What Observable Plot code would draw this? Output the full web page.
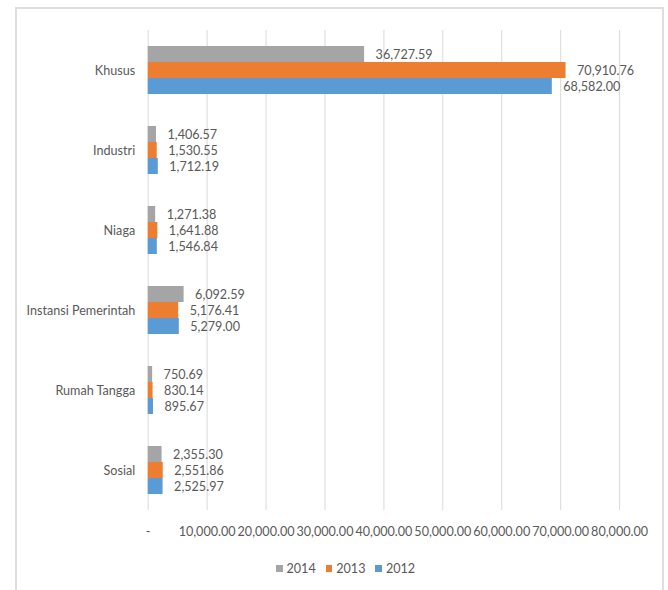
<!DOCTYPE html>
<html>
<head>
<meta charset="utf-8">
<script src="https://cdn.jsdelivr.net/npm/d3@7"></script>
<script src="https://cdn.jsdelivr.net/npm/@observablehq/plot@0.6"></script>
<style>
  html, body { margin: 0; padding: 0; background: #fff; }
  #wrap { position: relative; width: 668px; height: 590px; overflow: hidden; background: #fff; font-family: Lato, "Open Sans", sans-serif; }
  #frame { position: absolute; left: 15px; top: 7px; width: 649px; height: 640px; border: 2px solid #dedede; box-sizing: border-box; }
  #chart { position: absolute; left: 0; top: 0; }
  #legend { position: absolute; left: 276px; top: 561px; display: flex; align-items: center; font-size: 12.6px; color: #595959; }
  #legend .item { display: flex; align-items: center; margin-right: 10px; }
  #legend .sw { width: 6.5px; height: 6.5px; margin-right: 4px; }
</style>
</head>
<body>
<div id="wrap">
  <div id="frame"></div>
  <div id="chart"></div>
  <div id="legend"></div>
</div>
<script>
const categories = ["Khusus", "Industri", "Niaga", "Instansi Pemerintah", "Rumah Tangga", "Sosial"];
const years = ["2014", "2013", "2012"];
const values2014 = [36727.59, 1406.57, 1271.38, 6092.59, 750.69, 2355.30];
const values2013 = [70910.76, 1530.55, 1641.88, 5176.41, 830.14, 2551.86];
const values2012 = [68582.00, 1712.19, 1546.84, 5279.00, 895.67, 2525.97];
const colors = ["#A5A5A5", "#ED7D31", "#5B9BD5"];
const xTicks = [0, 10000, 20000, 30000, 40000, 50000, 60000, 70000, 80000];

const series = {"2014": values2014, "2013": values2013, "2012": values2012};
const rows = [];
categories.forEach((c, i) => {
  years.forEach(y => rows.push({category: c, year: y, value: series[y][i]}));
});

const fmt = d3.format(",.2f");
const tickFmt = d => d === 0 ? "-" : fmt(d);

const chart = Plot.plot({
  width: 668,
  height: 550,
  marginLeft: 147.7,
  marginRight: 48.9,
  marginTop: 28,
  marginBottom: 38.5,
  style: {color: "#595959", fontFamily: "Lato, 'Open Sans', sans-serif", fontSize: "12.6px", background: "transparent", overflow: "visible"},
  x: {domain: [0, 80000]},
  fy: {domain: categories, padding: 0, label: null},
  y: {domain: years, paddingInner: 0, paddingOuter: 0.92, axis: null},
  color: {domain: years, range: colors},
  marks: [
    Plot.gridX(xTicks, {stroke: "#d9d9d9", strokeOpacity: 1, strokeWidth: 1}),
    Plot.axisX({ticks: xTicks, tickFormat: tickFmt, tickSize: 0, tickPadding: 17, label: null, fill: "#595959"}),
    Plot.axisFy({anchor: "left", tickSize: 0, tickPadding: 13, label: null, fill: "#595959"}),
    Plot.barX(rows, {x: "value", y: "year", fy: "category", fill: "year"}),
    Plot.text(rows, {x: "value", y: "year", fy: "category", text: d => fmt(d.value), textAnchor: "start", dx: 11, fill: "#595959"})
  ]
});
document.getElementById("chart").appendChild(chart);

const legend = document.getElementById("legend");
years.forEach((y, i) => {
  const item = document.createElement("div");
  item.className = "item";
  const sw = document.createElement("div");
  sw.className = "sw";
  sw.style.background = colors[i];
  const t = document.createElement("span");
  t.textContent = y;
  item.appendChild(sw);
  item.appendChild(t);
  legend.appendChild(item);
});
</script>
</body>
</html>
